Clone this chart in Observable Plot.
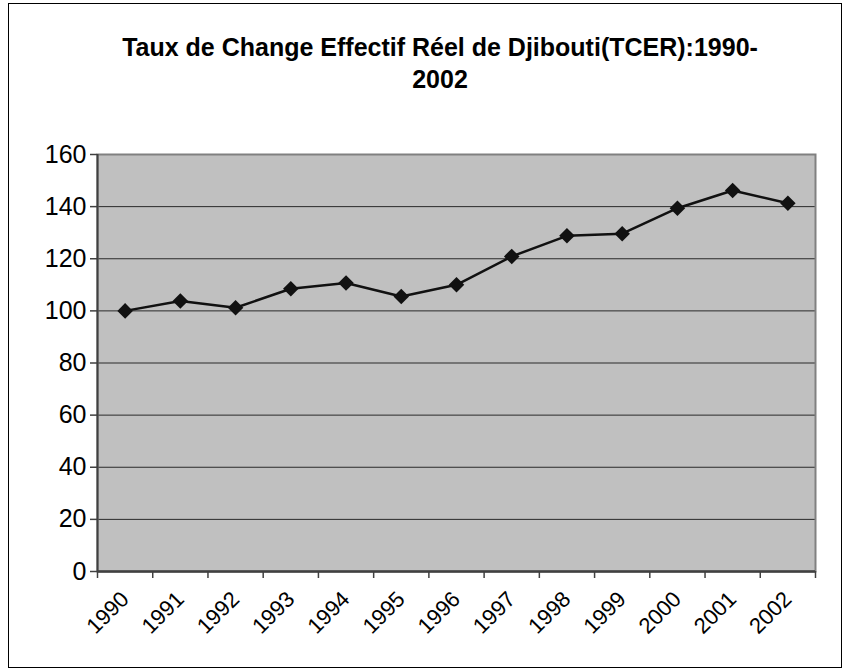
<!DOCTYPE html>
<html>
<head>
<meta charset="utf-8">
<script src="https://cdn.jsdelivr.net/npm/d3@7"></script>
<script src="https://cdn.jsdelivr.net/npm/@observablehq/plot@0.6"></script>
<style>
  html, body { margin: 0; padding: 0; background: #fff; overflow: hidden; }
  #wrap { position: relative; width: 851px; height: 671px; overflow: hidden; background: #fff; }
  #chart { position: absolute; left: 0; top: 0; }
  #border { position: absolute; left: 8px; top: 3px; width: 832px; height: 663px;
            border: 1.5px solid #000; pointer-events: none; }
  .title { position: absolute; left: 40px; width: 800px; text-align: center;
           font-family: "Liberation Sans", Arial, sans-serif; font-weight: bold; font-size: 25px;
           line-height: 32px; color: #000; white-space: nowrap; }
</style>
</head>
<body>
<div id="wrap">
  <div id="chart"></div>
  <div id="border"></div>
  <div class="title" id="t1" style="top:31px">Taux de Change Effectif Réel de Djibouti(TCER):1990-</div>
  <div class="title" id="t2" style="top:63px">2002</div>
</div>
<script>
const years = [1990, 1991, 1992, 1993, 1994, 1995, 1996, 1997, 1998, 1999, 2000, 2001, 2002];
const tcer = [100.0, 103.8, 101.2, 108.5, 110.7, 105.5, 110.0, 120.9, 128.8, 129.6, 139.4, 146.2, 141.3];
const yTicks = [0, 20, 40, 60, 80, 100, 120, 140, 160];
const gridValues = [20, 40, 60, 80, 100, 120, 140];
const boundaries = [1989.5, 1990.5, 1991.5, 1992.5, 1993.5, 1994.5, 1995.5, 1996.5, 1997.5, 1998.5, 1999.5, 2000.5, 2001.5, 2002.5];

const data = years.map((y, i) => ({year: y, value: tcer[i]}));

const chart = Plot.plot({
  width: 851,
  height: 671,
  marginLeft: 97,
  marginRight: 36,
  marginTop: 154,
  marginBottom: 100,
  style: {background: "transparent", fontFamily: "'Liberation Sans', Arial, sans-serif", color: "#000"},
  x: {type: "linear", domain: [1989.5, 2002.5], label: null},
  y: {domain: [0, 160], label: null},
  marks: [
    Plot.frame({fill: "#C0C0C0", stroke: null}),
    Plot.ruleY(gridValues, {stroke: "#2a2a2a", strokeWidth: 1}),
    Plot.frame({stroke: "#808080", strokeWidth: 2}),
    Plot.ruleX([1989.5], {stroke: "#404040", strokeWidth: 2}),
    Plot.ruleY([0], {stroke: "#404040", strokeWidth: 2.5}),
    Plot.axisY(yTicks, {tickSize: 7, tickPadding: 4, fontSize: 25, stroke: "#404040", fill: "#000", strokeWidth: 1.5}),
    Plot.axisX(boundaries, {tickSize: 7, tickFormat: () => "", stroke: "#404040", strokeWidth: 1.5}),
    Plot.axisX(years, {tickSize: 0, tickPadding: 0, tickRotate: -45, textAnchor: "end", lineAnchor: "middle",
                       dx: 0, dy: 24, fontSize: 22, fill: "#000", tickFormat: d => String(d)}),
    Plot.line(data, {x: "year", y: "value", stroke: "#111", strokeWidth: 2.5}),
    Plot.dot(data, {x: "year", y: "value", symbol: "diamond2", r: 7, fill: "#111", stroke: null})
  ]
});
document.getElementById("chart").appendChild(chart);
</script>
</body>
</html>
